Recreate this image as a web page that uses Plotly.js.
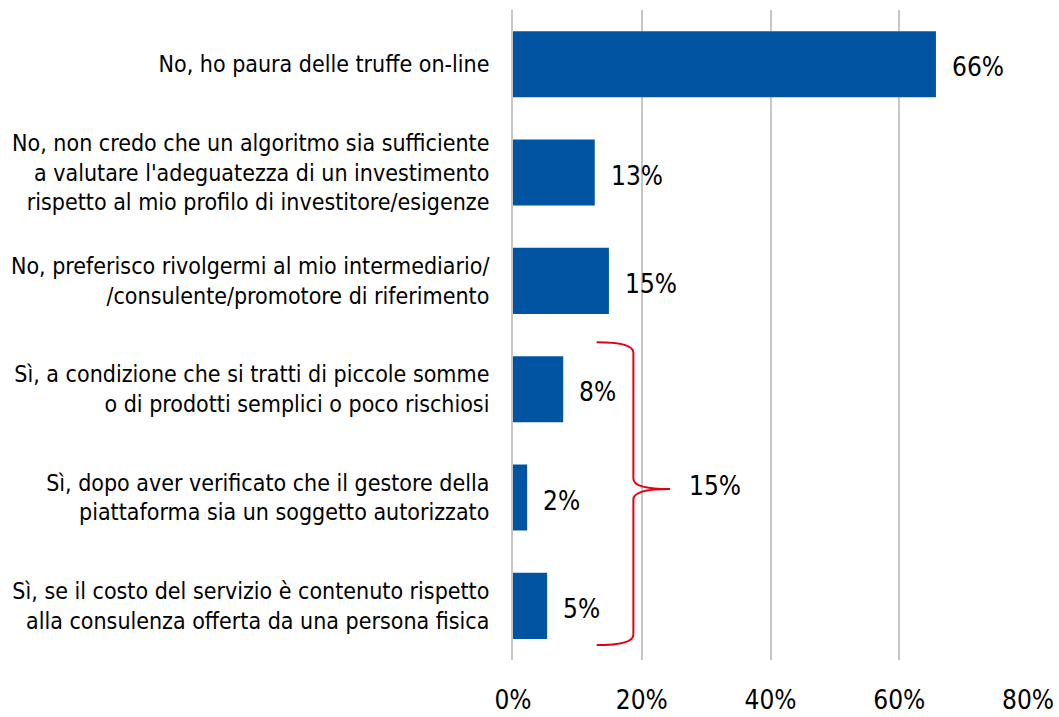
<!DOCTYPE html>
<html>
<head>
<meta charset="utf-8">
<script src="https://cdn.plot.ly/plotly-3.0.1.min.js"></script>
<style>
  html, body { margin: 0; padding: 0; background: #fff; }
  #chart { width: 1059px; height: 717px; }
</style>
</head>
<body>
<div id="chart"></div>
<script>
// Answers, top to bottom as in the chart
const answers = [
  "No, ho paura delle truffe on-line",
  "No, non credo che un algoritmo sia sufficiente<br>a valutare l'adeguatezza di un investimento<br>rispetto al mio profilo di investitore/esigenze",
  "No, preferisco rivolgermi al mio intermediario/<br>/consulente/promotore di riferimento",
  "Sì, a condizione che si tratti di piccole somme<br>o di prodotti semplici o poco rischiosi",
  "Sì, dopo aver verificato che il gestore della<br>piattaforma sia un soggetto autorizzato",
  "Sì, se il costo del servizio è contenuto rispetto<br>alla consulenza offerta da una persona fisica"
];
// share of respondents (%)
const shares = [65.7, 12.7, 14.9, 7.8, 2.2, 5.3];
const shareLabels = ["66%", "13%", "15%", "8%", "2%", "5%"];
// total of the "Sì" answers shown next to the brace
const siTotalLabel = "15%";

const xTicks = [0, 20, 40, 60, 80];
const xTickLabels = ["0%", "20%", "40%", "60%", "80%"];

const FONT = '"DejaVu Sans Condensed", "Liberation Sans Narrow", "Liberation Sans", sans-serif';
const BLUE = "#0054a2";
const RED = "#e3000f";
const GRID = "#c6c6c6";

// Value labels next to the bars
let annotations = shares.map(function(v, i) {
  return {
    x: v, y: answers[i], xref: "x", yref: "y",
    text: shareLabels[i], showarrow: false,
    xanchor: "left", yanchor: "middle",
    xshift: 14, yshift: -3,
    font: { family: FONT, size: 26, color: "#000" }
  };
});
annotations.push({
  x: 27.0, y: 0.268, xref: "x", yref: "paper",
  text: siTotalLabel, showarrow: false,
  xanchor: "left", yanchor: "middle",
  font: { family: FONT, size: 26, color: "#000" }
});

// curly brace grouping the three "Sì" answers (x in %, y in paper units)
function bracePath(x0, xm, xt, yTop, yMid, yBot) {
  const c = 0.016;
  return "M" + x0 + "," + yTop +
    " Q" + xm + "," + yTop + " " + xm + "," + (yTop - c) +
    " L" + xm + "," + (yMid + c) +
    " Q" + xm + "," + yMid + " " + xt + "," + yMid +
    " Q" + xm + "," + yMid + " " + xm + "," + (yMid - c) +
    " L" + xm + "," + (yBot + c) +
    " Q" + xm + "," + yBot + " " + x0 + "," + yBot;
}

const shapes = [{
  type: "path", xref: "x", yref: "paper",
  path: bracePath(13.0, 18.7, 24.4, 0.489, 0.263, 0.023),
  line: { color: RED, width: 2 }
}];

Plotly.newPlot("chart", [{
  type: "bar",
  orientation: "h",
  x: shares,
  y: answers,
  marker: { color: BLUE },
  width: 0.61,
  hoverinfo: "none"
}], {
  width: 1059,
  height: 717,
  margin: { l: 513, r: 31, t: 10, b: 57 },
  paper_bgcolor: "#fff",
  plot_bgcolor: "#fff",
  showlegend: false,
  font: { family: FONT, color: "#000" },
  xaxis: {
    range: [0, 80],
    tickvals: xTicks,
    ticktext: xTickLabels,
    showgrid: true,
    gridcolor: GRID,
    gridwidth: 2,
    zeroline: false,
    showline: false,
    ticks: "",
    ticklabelstandoff: 22,
    tickfont: { family: FONT, size: 26, color: "#000" },
    fixedrange: true
  },
  yaxis: {
    type: "category",
    autorange: "reversed",
    range: [5.5, -0.5],
    showgrid: false,
    zeroline: false,
    showline: true,
    linecolor: GRID,
    linewidth: 2,
    ticks: "",
    ticklabelstandoff: 17,
    tickfont: { family: FONT, size: 23, color: "#000" },
    fixedrange: true
  },
  annotations: annotations,
  shapes: shapes
}, { displayModeBar: false, staticPlot: true });
</script>
</body>
</html>
